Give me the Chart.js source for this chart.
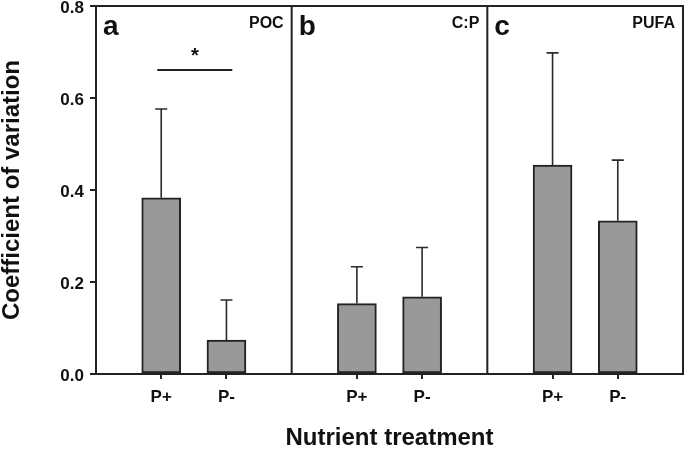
<!DOCTYPE html>
<html>
<head>
<meta charset="utf-8">
<script src="https://cdn.jsdelivr.net/npm/chart.js@4"></script>
<style>
html,body{margin:0;padding:0;background:#fff;}
#wrap{width:685px;height:450px;position:relative;}
</style>
</head>
<body>
<div id="wrap"><canvas id="c" width="685" height="450"></canvas></div>
<script>
// ---- data ----
const panelNames = ['POC', 'C:P', 'PUFA'];
const panelLetters = ['a', 'b', 'c'];
const treatments = ['P+', 'P-'];
const meanPPlus = [0.383, 0.153, 0.454];
const meanPMinus = [0.074, 0.168, 0.333];
const errTopPPlus = [0.576, 0.233, 0.698];
const errTopPMinus = [0.161, 0.275, 0.465];
const yTicks = [0.0, 0.2, 0.4, 0.6, 0.8];
const sigPanel = 0;          // panel with significance marker
const sigLevel = 0.661;      // y value of significance bar
const sigLabel = '*';

const FONT = "'Liberation Sans', Arial, Helvetica, sans-serif";
const INK = '#222222';

// build bar points: panel i occupies x in [3i, 3i+3], P+ at 3i+1, P- at 3i+2
const points = [];
const errTops = [];
panelNames.forEach((p, i) => {
  points.push({x: 3 * i + 1, y: meanPPlus[i]});
  errTops.push(errTopPPlus[i]);
  points.push({x: 3 * i + 2, y: meanPMinus[i]});
  errTops.push(errTopPMinus[i]);
});
const tickPositions = points.map(p => p.x);

const overlay = {
  id: 'overlay',
  afterDatasetsDraw(chart) {
    const ctx = chart.ctx;
    const xs = chart.scales.x, ys = chart.scales.y;
    const area = chart.chartArea;
    ctx.save();
    // error bars
    ctx.strokeStyle = '#2a2a2a';
    ctx.lineWidth = 1.6;
    points.forEach((p, k) => {
      const px = xs.getPixelForValue(p.x);
      const y0 = ys.getPixelForValue(p.y);
      const y1 = ys.getPixelForValue(errTops[k]);
      ctx.beginPath();
      ctx.moveTo(px, y0); ctx.lineTo(px, y1);
      ctx.moveTo(px - 6, y1); ctx.lineTo(px + 6, y1);
      ctx.stroke();
    });
    // frame: top, right, panel dividers
    ctx.strokeStyle = INK;
    ctx.lineWidth = 2;
    ctx.beginPath();
    ctx.moveTo(area.left, area.top); ctx.lineTo(area.right, area.top);
    ctx.lineTo(area.right, area.bottom);
    for (let i = 1; i < panelNames.length; i++) {
      const dx = xs.getPixelForValue(3 * i);
      ctx.moveTo(dx, area.top); ctx.lineTo(dx, area.bottom);
    }
    ctx.stroke();
    // panel labels
    ctx.fillStyle = '#111';
    panelNames.forEach((name, i) => {
      const l = xs.getPixelForValue(3 * i);
      const r = xs.getPixelForValue(3 * i + 3);
      ctx.font = 'bold 28px ' + FONT;
      ctx.textAlign = 'left';
      ctx.textBaseline = 'alphabetic';
      ctx.fillText(panelLetters[i], l + 7, area.top + 29);
      ctx.font = 'bold 16px ' + FONT;
      ctx.textAlign = 'right';
      ctx.fillText(name, r - 8, area.top + 22);
    });
    // significance marker
    const sx0 = xs.getPixelForValue(3 * sigPanel + 0.94);
    const sx1 = xs.getPixelForValue(3 * sigPanel + 2.09);
    const sy = ys.getPixelForValue(sigLevel);
    ctx.strokeStyle = INK;
    ctx.lineWidth = 2;
    ctx.beginPath();
    ctx.moveTo(sx0, sy); ctx.lineTo(sx1, sy);
    ctx.stroke();
    ctx.font = 'bold 20px ' + FONT;
    ctx.textAlign = 'center';
    ctx.textBaseline = 'alphabetic';
    ctx.fillText(sigLabel, (sx0 + sx1) / 2, sy - 8);
    ctx.restore();
  }
};

new Chart(document.getElementById('c'), {
  type: 'bar',
  data: {
    datasets: [{
      data: points,
      backgroundColor: '#999999',
      borderColor: INK,
      borderWidth: 2,
      borderSkipped: false,
      barThickness: 39
    }]
  },
  options: {
    responsive: false,
    animation: false,
    devicePixelRatio: 1,
    layout: {padding: {top: 6, right: 2, left: 0, bottom: 0}},
    plugins: {legend: {display: false}, tooltip: {enabled: false}},
    scales: {
      x: {
        type: 'linear',
        min: 0, max: 9,
        offset: false,
        afterBuildTicks: s => { s.ticks = tickPositions.map(v => ({value: v})); },
        afterFit: s => { s.height = 76; s.paddingLeft = 0; s.paddingRight = 0; },
        grid: {drawOnChartArea: false, drawTicks: true, tickLength: 5, color: INK, lineWidth: 2, offset: false},
        border: {display: true, color: INK, width: 2},
        ticks: {
          autoSkip: false, maxRotation: 0, padding: 8,
          color: '#111',
          font: {family: FONT, size: 17, weight: 'bold'},
          callback: v => treatments[(Math.round(v) % 3) - 1]
        },
        title: {display: true, text: 'Nutrient treatment', color: '#111',
          font: {family: FONT, size: 24, weight: 'bold', lineHeight: 1.0}, padding: {top: 0, bottom: 0}}
      },
      y: {
        min: 0, max: 0.8,
        afterBuildTicks: s => { s.ticks = yTicks.map(v => ({value: v})); },
        afterFit: s => { s.width = 96; s.paddingTop = 0; s.paddingBottom = 0; },
        grid: {drawOnChartArea: false, drawTicks: true, tickLength: 6, color: INK, lineWidth: 2},
        border: {display: true, color: INK, width: 2},
        ticks: {
          padding: 6, color: '#111', labelOffset: 2,
          font: {family: FONT, size: 17, weight: 'bold'},
          callback: v => Number(v).toFixed(1)
        },
        title: {display: true, text: 'Coefficient of variation', color: '#111',
          font: {family: FONT, size: 24, weight: 'bold', lineHeight: 1.0}, padding: {top: 0, bottom: 0}}
      }
    }
  },
  plugins: [overlay]
});
</script>
</body>
</html>
